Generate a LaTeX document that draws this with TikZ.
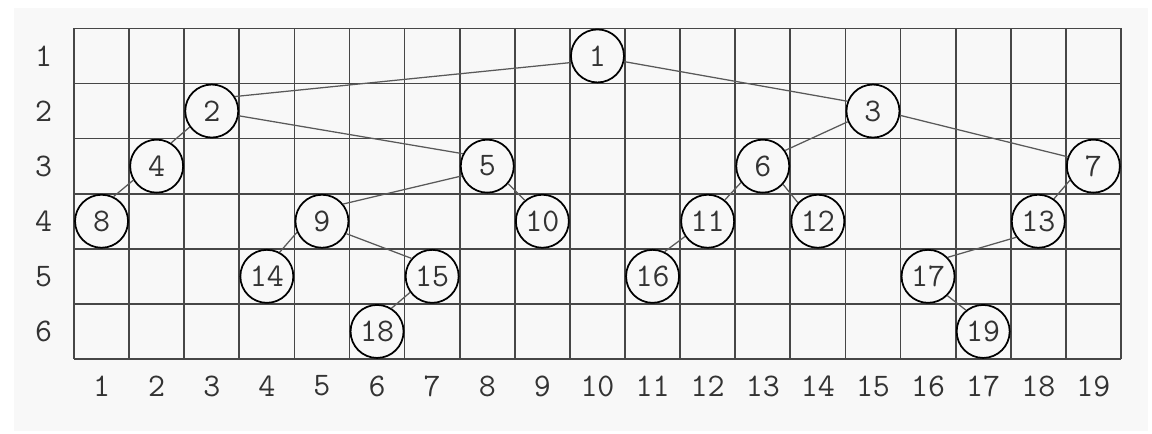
\documentclass[tikz,border=0pt]{standalone}
\usepackage{fontspec}
\setmonofont{Latin Modern Mono}
\definecolor{bggray}{RGB}{248,248,248}
\tikzset{
  gridline/.style={draw=black!72, line width=0.9pt},
  treenode/.style={circle, draw=black, line width=0.9pt, fill=bggray, minimum size=0.962cm, inner sep=0pt,
    font=\ttfamily\fontsize{17}{17}\selectfont, text=black!80},
  edgeline/.style={draw=black!65, line width=0.65pt},
  axislabel/.style={inner sep=0pt, font=\ttfamily\fontsize{17}{17}\selectfont, text=black!80}
}
\begin{document}
\begin{tikzpicture}
\useasboundingbox (-1.343,-1.361) rectangle (19.564,6.515);
\fill[white] (-1.343,-1.361) rectangle (19.564,6.515);
\fill[bggray] (-1.089,-1.307) rectangle (19.49,6.370);
\draw[gridline] (0,0) grid (19,6);
% row labels
\foreach \r in {1,...,6} { \node[axislabel] (r\r) at (-0.55,6.5-\r) {\r}; }
% column labels
\foreach \c in {1,...,19} { \node[axislabel] (c\c) at (\c-0.5,-0.49) {\c}; }
% nodes (column, row)
\foreach \n/\c/\r in {1/10/1, 2/3/2, 3/15/2, 4/2/3, 5/8/3, 6/13/3, 7/19/3, 8/1/4, 9/5/4, 10/9/4,
  11/12/4, 12/14/4, 13/18/4, 14/4/5, 15/7/5, 16/11/5, 17/16/5, 18/6/6, 19/17/6}
  { \node[treenode] (n\n) at (\c-0.5,6.5-\r) {\n}; }
% edges
\foreach \p/\pa/\q/\qa in {1/194/2/32, 1/-12.5/3/159, 2/216/4/58, 2/-10.5/5/153, 3/203/6/35, 3/-9/7/160,
  4/211/8/64, 5/201/9/39, 5/-40/10/130, 6/217/11/51, 6/-42/12/137, 7/211/13/55, 9/204/14/62,
  9/-27/15/139, 11/214/16/64, 13/216/17/44, 15/216/18/58, 17/-45/19/129}
  { \draw[edgeline] (n\p.\pa) -- (n\q.\qa); }
\end{tikzpicture}
\end{document}
